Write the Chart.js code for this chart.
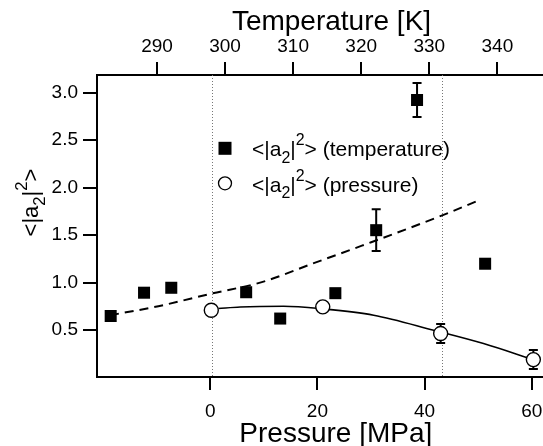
<!DOCTYPE html>
<html>
<head>
<meta charset="utf-8">
<script src="https://cdn.jsdelivr.net/npm/chart.js@4.4.0/dist/chart.umd.min.js"></script>
<style>
  html, body { margin: 0; padding: 0; background: #fff; }
  #wrap { width: 543px; height: 446px; }
</style>
</head>
<body>
<div id="wrap"><canvas id="chart"></canvas></div>
<script>
const FONT = "'Liberation Sans', Arial, Helvetica, sans-serif";

// <|a2|^2> vs temperature (top axis, filled squares)
const tempK   = [283.2, 288.1, 292.1, 303.1, 308.1, 316.2, 322.2, 328.2, 338.2];
const tempA2  = [0.65, 0.895, 0.947, 0.90, 0.623, 0.89, 1.553, 2.923, 1.20];
const tempErr = [0, 0, 0, 0.04, 0.03, 0.04, 0.22, 0.18, 0];

// <|a2|^2> vs pressure (bottom axis, open circles)
const pressMPa = [0.2, 21.0, 43.0, 60.3];
const pressA2  = [0.711, 0.746, 0.465, 0.191];
const pressErr = [0, 0, 0.1, 0.1];

// dashed guide curve (temperature)
const dashK  = [283.1, 290.2, 298.1, 305.4, 312.8, 320.1, 331.8, 337.2];
const dashA2 = [0.658, 0.753, 0.887, 1.006, 1.20, 1.39, 1.706, 1.865];

// solid guide curve (pressure)
const fitMPa = [1.5, 5.6, 13.7, 21, 30.5, 41.7, 51, 60.3];
const fitA2  = [0.729, 0.745, 0.753, 0.725, 0.658, 0.50, 0.36, 0.19];

// dotted reference lines (pressure)
const refMPa = [0.3, 43.2];

// ticks
const pressTicks = [0, 20, 40, 60];
const tempTicks = [290, 300, 310, 320, 330, 340];
const yTicks = [0.5, 1.0, 1.5, 2.0, 2.5, 3.0];

const pts = (xs, ys) => xs.map((x, i) => ({ x: x, y: ys[i] }));

function richText(ctx, parts, x, y, size) {
  let cx = x;
  parts.forEach(([t, k]) => {
    const fs = k ? size * 0.76 : size;
    ctx.font = fs + 'px ' + FONT;
    const dy = k === 1 ? size * 0.33 : (k === 2 ? -size * 0.52 : 0);
    ctx.fillText(t, cx, y + dy);
    cx += ctx.measureText(t).width;
  });
  return cx - x;
}

function richWidth(ctx, parts, size) {
  let w = 0;
  parts.forEach(([t, k]) => {
    ctx.font = (k ? size * 0.76 : size) + 'px ' + FONT;
    w += ctx.measureText(t).width;
  });
  return w;
}

const a2 = (rest) => [['<|a', 0], ['2', 1], ['|', 0], ['2', 2], ['>' + rest, 0]];

const extras = {
  id: 'extras',
  beforeDatasetsDraw(chart) {
    const ctx = chart.ctx;
    const xP = chart.scales.xP, xT = chart.scales.xT, y = chart.scales.y;
    const area = chart.chartArea;
    ctx.save();
    // dotted lines
    ctx.strokeStyle = '#777';
    ctx.lineWidth = 1;
    ctx.setLineDash([1, 2]);
    refMPa.forEach(p => {
      const px = Math.round(xP.getPixelForValue(p)) + 0.5;
      ctx.beginPath();
      ctx.moveTo(px, area.top);
      ctx.lineTo(px, area.bottom);
      ctx.stroke();
    });
    ctx.setLineDash([]);
    // error bars
    ctx.strokeStyle = '#000';
    ctx.lineWidth = 2;
    const bars = (xs, ys, es, sc) => {
      xs.forEach((v, i) => {
        if (!es[i]) return;
        const px = sc.getPixelForValue(v);
        const y1 = y.getPixelForValue(ys[i] - es[i]);
        const y2 = y.getPixelForValue(ys[i] + es[i]);
        ctx.beginPath();
        ctx.moveTo(px, y1); ctx.lineTo(px, y2);
        ctx.moveTo(px - 4.5, y1); ctx.lineTo(px + 4.5, y1);
        ctx.moveTo(px - 4.5, y2); ctx.lineTo(px + 4.5, y2);
        ctx.stroke();
      });
    };
    bars(tempK, tempA2, tempErr, xT);
    bars(pressMPa, pressA2, pressErr, xP);
    ctx.restore();
  },
  afterDraw(chart) {
    const ctx = chart.ctx;
    ctx.save();
    ctx.fillStyle = '#000';
    ctx.textBaseline = 'alphabetic';
    // axis titles
    ctx.textAlign = 'center';
    ctx.font = '28px ' + FONT;
    ctx.fillText('Temperature [K]', 331.5, 29.5);
    ctx.fillText('Pressure [MPa]', 335.8, 441.5);
    ctx.textAlign = 'left';
    // y title
    const yParts = a2('');
    ctx.save();
    ctx.translate(38, 202.5);
    ctx.rotate(-Math.PI / 2);
    const w = richWidth(ctx, yParts, 22);
    richText(ctx, yParts, -w / 2, 0, 22);
    ctx.restore();
    // legend
    ctx.fillRect(218.5, 141.8, 13, 13);
    ctx.beginPath();
    ctx.arc(225, 183.3, 6.5, 0, Math.PI * 2);
    ctx.fillStyle = '#fff';
    ctx.fill();
    ctx.strokeStyle = '#000';
    ctx.lineWidth = 1.3;
    ctx.stroke();
    ctx.fillStyle = '#000';
    richText(ctx, a2(' (temperature)'), 252, 156, 21);
    richText(ctx, a2(' (pressure)'), 252, 191.5, 21);
    ctx.restore();
  }
};

const tickFont = { family: FONT, size: 19 };
const axisGrid = (len) => ({ drawOnChartArea: false, drawTicks: true, tickLength: len, color: '#000', lineWidth: 2 });
const axisBorder = { display: true, color: '#000', width: 2 };
const fitX = (h) => s => { s.height = h; s.paddingLeft = 0; s.paddingRight = 0; };

new Chart(document.getElementById('chart'), {
  type: 'scatter',
  data: {
    datasets: [
      {
        label: 'pressure',
        data: pts(pressMPa, pressA2),
        xAxisID: 'xP',
        pointStyle: 'circle',
        pointRadius: 7,
        backgroundColor: '#fff',
        borderColor: '#000',
        borderWidth: 1.4
      },
      {
        label: 'temperature',
        data: pts(tempK, tempA2),
        xAxisID: 'xT',
        pointStyle: 'rect',
        pointRadius: 8.5,
        backgroundColor: '#000',
        borderColor: '#000',
        borderWidth: 0
      },
      {
        label: 'fit pressure',
        data: pts(fitMPa, fitA2),
        xAxisID: 'xP',
        showLine: true,
        pointRadius: 0,
        borderColor: '#000',
        borderWidth: 1.6,
        cubicInterpolationMode: 'monotone'
      },
      {
        label: 'fit temperature',
        data: pts(dashK, dashA2),
        xAxisID: 'xT',
        showLine: true,
        pointRadius: 0,
        borderColor: '#000',
        borderWidth: 2,
        borderDash: [9, 6],
        cubicInterpolationMode: 'monotone'
      }
    ]
  },
  options: {
    responsive: true,
    maintainAspectRatio: false,
    animation: false,
    devicePixelRatio: 1,
    layout: { padding: 0, autoPadding: false },
    plugins: { legend: { display: false }, tooltip: { enabled: false } },
    scales: {
      xP: {
        type: 'linear', position: 'bottom', min: -21.13, max: 62.1,
        afterBuildTicks: s => { s.ticks = pressTicks.map(v => ({ value: v })); },
        afterFit: fitX(69),
        grid: axisGrid(13), border: axisBorder,
        ticks: { font: tickFont, color: '#000', padding: 10, maxRotation: 0 }
      },
      xT: {
        type: 'linear', position: 'top', min: 281.19, max: 346.7,
        afterBuildTicks: s => { s.ticks = tempTicks.map(v => ({ value: v })); },
        afterFit: fitX(75),
        grid: axisGrid(13), border: axisBorder,
        ticks: { font: tickFont, color: '#000', padding: 4, maxRotation: 0 }
      },
      y: {
        type: 'linear', position: 'left', min: 0.008, max: 3.186,
        afterBuildTicks: s => { s.ticks = yTicks.map(v => ({ value: v })); },
        afterFit: s => { s.width = 97; s.paddingTop = 0; s.paddingBottom = 0; },
        grid: axisGrid(14), border: axisBorder,
        ticks: { font: tickFont, color: '#000', padding: 5, callback: v => v.toFixed(1) }
      }
    }
  },
  plugins: [extras]
});
</script>
</body>
</html>
